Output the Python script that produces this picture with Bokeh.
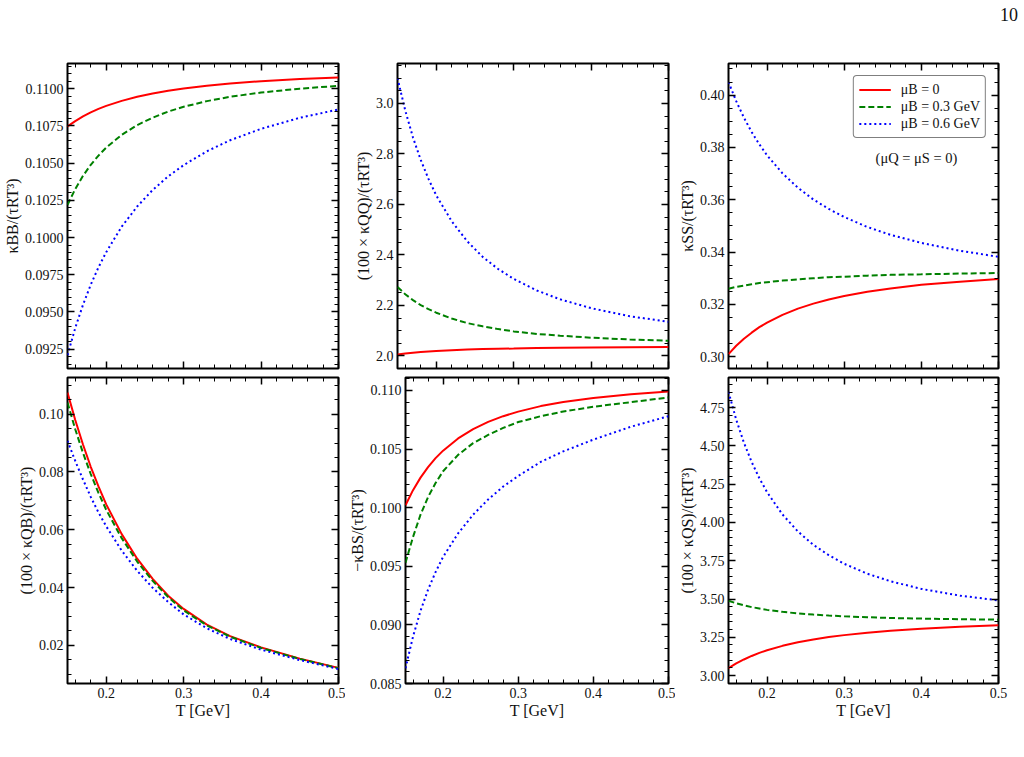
from bokeh.plotting import figure
from bokeh.layouts import row, column
from bokeh.models import (Range1d, FixedTicker, LinearAxis, CustomJSTickFormatter,
                          NumeralTickFormatter, Legend, LegendItem, Label, Div)
from bokeh.embed import file_html
from bokeh.resources import INLINE
import numpy as np

# ---------------- data ----------------
T = [0.15, 0.16, 0.17, 0.18, 0.19, 0.20, 0.22, 0.24, 0.26, 0.28, 0.30, 0.33, 0.36, 0.40, 0.45, 0.50]

bb_mu0 = [0.10747, 0.10783, 0.10815, 0.10842, 0.10865, 0.10885, 0.10919, 0.10946, 0.10969, 0.10987, 0.11002, 0.11020, 0.11035, 0.11051, 0.11065, 0.11076]
bb_mu3 = [0.10220, 0.10326, 0.10415, 0.10489, 0.10551, 0.10605, 0.10690, 0.10756, 0.10806, 0.10847, 0.10879, 0.10917, 0.10946, 0.10975, 0.11001, 0.11020]
bb_mu6 = [0.09210, 0.09392, 0.09548, 0.09683, 0.09800, 0.09902, 0.10073, 0.10209, 0.10320, 0.10411, 0.10487, 0.10580, 0.10654, 0.10731, 0.10805, 0.10861]

qq_mu0 = [2.005, 2.009, 2.012, 2.015, 2.017, 2.019, 2.022, 2.025, 2.027, 2.028, 2.029, 2.031, 2.032, 2.033, 2.034, 2.035]
qq_mu3 = [2.273, 2.244, 2.221, 2.201, 2.185, 2.171, 2.148, 2.130, 2.117, 2.106, 2.097, 2.087, 2.080, 2.072, 2.065, 2.060]
qq_mu6 = [3.100, 2.972, 2.865, 2.776, 2.701, 2.636, 2.533, 2.454, 2.392, 2.344, 2.305, 2.259, 2.224, 2.189, 2.157, 2.135]

ss_mu0 = [0.3010, 0.3042, 0.3069, 0.3092, 0.3113, 0.3130, 0.3160, 0.3184, 0.3203, 0.3219, 0.3232, 0.3248, 0.3261, 0.3275, 0.3287, 0.3297]
ss_mu3 = [0.3260, 0.3267, 0.3272, 0.3277, 0.3282, 0.3285, 0.3291, 0.3296, 0.3300, 0.3304, 0.3306, 0.3310, 0.3313, 0.3315, 0.3318, 0.3320]
ss_mu6 = [0.4050, 0.3977, 0.3914, 0.3859, 0.3812, 0.3770, 0.3701, 0.3646, 0.3601, 0.3565, 0.3534, 0.3496, 0.3466, 0.3435, 0.3405, 0.3382]

qb_mu0 = [0.1075, 0.0980, 0.0895, 0.0818, 0.0750, 0.0688, 0.0585, 0.0500, 0.0430, 0.0372, 0.0326, 0.0272, 0.0232, 0.0193, 0.0154, 0.0122]
qb_mu3 = [0.1040, 0.0948, 0.0866, 0.0793, 0.0728, 0.0669, 0.0571, 0.0490, 0.0423, 0.0367, 0.0321, 0.0269, 0.0230, 0.0191, 0.0153, 0.0121]
qb_mu6 = [0.0908, 0.0838, 0.0774, 0.0714, 0.0660, 0.0612, 0.0528, 0.0458, 0.0399, 0.0350, 0.0307, 0.0259, 0.0222, 0.0185, 0.0149, 0.0118]

bs_mu0 = [0.10020, 0.10149, 0.10256, 0.10346, 0.10422, 0.10486, 0.10590, 0.10670, 0.10731, 0.10780, 0.10819, 0.10866, 0.10901, 0.10936, 0.10968, 0.10990]
bs_mu3 = [0.0953, 0.0975, 0.0994, 0.1009, 0.1021, 0.1031, 0.1045, 0.1055, 0.1062, 0.1068, 0.1073, 0.1078, 0.1082, 0.1086, 0.1090, 0.1094]
bs_mu6 = [0.0863, 0.0890, 0.0912, 0.0930, 0.0945, 0.0958, 0.0978, 0.0994, 0.1007, 0.1018, 0.1027, 0.1039, 0.1048, 0.1058, 0.1069, 0.1078]

qs_mu0 = [3.048, 3.079, 3.105, 3.128, 3.148, 3.165, 3.194, 3.217, 3.236, 3.252, 3.264, 3.280, 3.293, 3.306, 3.318, 3.328]
qs_mu3 = [3.489, 3.472, 3.459, 3.447, 3.438, 3.429, 3.416, 3.406, 3.398, 3.392, 3.387, 3.381, 3.376, 3.372, 3.368, 3.365]
qs_mu6 = [4.853, 4.672, 4.521, 4.395, 4.289, 4.198, 4.052, 3.941, 3.854, 3.786, 3.730, 3.665, 3.616, 3.566, 3.522, 3.491]

x_ticks = [0.2, 0.3, 0.4, 0.5]
series_labels = ["μB = 0", "μB = 0.3 GeV", "μB = 0.6 GeV"]
note_text = "(μQ = μS = 0)"
x_label = "T [GeV]"
page_number = "10"

panels = [
    dict(ys=[bb_mu0, bb_mu3, bb_mu6], ylim=(0.0912, 0.1117),
         ticks=[0.0925, 0.0950, 0.0975, 0.1000, 0.1025, 0.1050, 0.1075, 0.1100], minor=0.0005,
         fmt="0.0000", label="κBB/(τRT³)"),
    dict(ys=[qq_mu0, qq_mu3, qq_mu6], ylim=(1.95, 3.158),
         ticks=[2.0, 2.2, 2.4, 2.6, 2.8, 3.0], minor=0.05,
         fmt="0.0", label="(100 × κQQ)/(τRT³)"),
    dict(ys=[ss_mu0, ss_mu3, ss_mu6], ylim=(0.2955, 0.4121),
         ticks=[0.30, 0.32, 0.34, 0.36, 0.38, 0.40], minor=0.005,
         fmt="0.00", label="κSS/(τRT³)"),
    dict(ys=[qb_mu0, qb_mu3, qb_mu6], ylim=(0.0068, 0.1127),
         ticks=[0.02, 0.04, 0.06, 0.08, 0.10], minor=0.005,
         fmt="0.00", label="(100 × κQB)/(τRT³)"),
    dict(ys=[bs_mu0, bs_mu3, bs_mu6], ylim=(0.085, 0.1111),
         ticks=[0.085, 0.090, 0.095, 0.100, 0.105, 0.110], minor=0.001,
         fmt="0.000", label="−κBS/(τRT³)"),
    dict(ys=[qs_mu0, qs_mu3, qs_mu6], ylim=(2.948, 4.947),
         ticks=[3.00, 3.25, 3.50, 3.75, 4.00, 4.25, 4.50, 4.75], minor=0.05,
         fmt="0.00", label="(100 × κQS)/(τRT³)"),
]

FONT = "Liberation Serif"
colors = ["#ff0000", "#008000", "#0000ff"]
dashes = ["solid", "6 3", "2 3"]
blank = CustomJSTickFormatter(code="return ''")
HEAD = 30  # height of the strip that carries the page number


def minor_list(lo, hi, step):
    n0 = int(np.ceil(lo / step - 1e-9))
    n1 = int(np.floor(hi / step + 1e-9))
    return [round(k * step, 6) for k in range(n0, n1 + 1)]


def style_axis(ax, labels=True):
    ax.axis_line_color = None
    ax.major_tick_in = 7
    ax.major_tick_out = 0
    ax.minor_tick_in = 4
    ax.minor_tick_out = 0
    ax.major_tick_line_color = "black"
    ax.major_tick_line_width = 1.5
    ax.minor_tick_line_color = "black"
    ax.minor_tick_line_width = 1
    ax.major_label_text_font = FONT
    ax.major_label_text_font_size = "14px"
    ax.major_label_text_color = "#111111"
    ax.axis_label_text_font = FONT
    ax.axis_label_text_font_style = "normal"
    ax.axis_label_text_font_size = "16px"
    ax.axis_label_text_color = "#111111"
    ax.axis_label_standoff = 1
    ax.major_label_standoff = 4 if labels else 0
    if not labels:
        ax.formatter = blank


figs = []
for i, pd_ in enumerate(panels):
    r, c = divmod(i, 3)
    left = 67 if c == 0 else 52
    right = 7 if c < 2 else 26
    width = left + 271 + right
    if r == 0:
        top, bottom, height = 63 - HEAD, 4, 372 - HEAD
    else:
        top, bottom, height = 5, 74, 385
    p = figure(width=width, height=height, min_border_left=left, min_border_right=right,
               min_border_top=top, min_border_bottom=bottom,
               x_range=Range1d(0.15, 0.5), y_range=Range1d(*pd_["ylim"]),
               x_axis_type=None, y_axis_type=None,
               output_backend="svg", toolbar_location=None)
    p.outline_line_color = "black"
    p.outline_line_width = 2
    p.background_fill_color = "white"
    p.border_fill_color = "white"

    xt = FixedTicker(ticks=x_ticks, minor_ticks=minor_list(0.15, 0.5, 0.02))
    yt = FixedTicker(ticks=pd_["ticks"], minor_ticks=minor_list(pd_["ylim"][0], pd_["ylim"][1], pd_["minor"]))

    ax_b = LinearAxis(ticker=xt, formatter=NumeralTickFormatter(format="0.0"))
    style_axis(ax_b, labels=(r == 1))
    if r == 1:
        ax_b.axis_label = x_label
    ax_t = LinearAxis(ticker=xt)
    style_axis(ax_t, labels=False)
    ax_l = LinearAxis(ticker=yt, formatter=NumeralTickFormatter(format=pd_["fmt"]), axis_label=pd_["label"])
    style_axis(ax_l, labels=True)
    ax_r = LinearAxis(ticker=yt)
    style_axis(ax_r, labels=False)
    p.add_layout(ax_b, "below")
    p.add_layout(ax_t, "above")
    p.add_layout(ax_l, "left")
    p.add_layout(ax_r, "right")

    rends = []
    for k in range(3):
        rr = p.line(T, pd_["ys"][k], line_color=colors[k], line_width=2, line_dash=dashes[k])
        rends.append(rr)

    if i == 2:
        items = [LegendItem(label=series_labels[k], renderers=[rends[k]]) for k in range(3)]
        leg = Legend(items=items, location="top_right")
        leg.margin = 12
        leg.padding = 5
        leg.spacing = 0
        leg.glyph_width = 32
        leg.glyph_height = 17
        leg.label_height = 17
        leg.label_standoff = 10
        leg.label_text_font = FONT
        leg.label_text_font_size = "14px"
        leg.label_text_color = "#111111"
        leg.border_line_color = "black"
        leg.border_line_width = 1
        leg.background_fill_alpha = 1
        try:
            leg.border_radius = 4
        except Exception:
            pass
        p.add_layout(leg)
        p.add_layout(Label(x=188, y=211, x_units="screen", y_units="screen", text=note_text,
                           text_align="center", text_baseline="middle",
                           text_font=FONT, text_font_size="14.5px", text_color="#111111"))
    figs.append(p)

head = Div(text=page_number, width=1024, height=HEAD, margin=0,
           styles={"text-align": "right", "font-family": FONT, "font-size": "18px",
                   "color": "#111111", "padding-right": "6px", "padding-top": "4px",
                   "box-sizing": "border-box", "line-height": "22px"})

layout = column(head, row(*figs[:3]), row(*figs[3:]))
open("out.html", "w").write(file_html(layout, INLINE))
